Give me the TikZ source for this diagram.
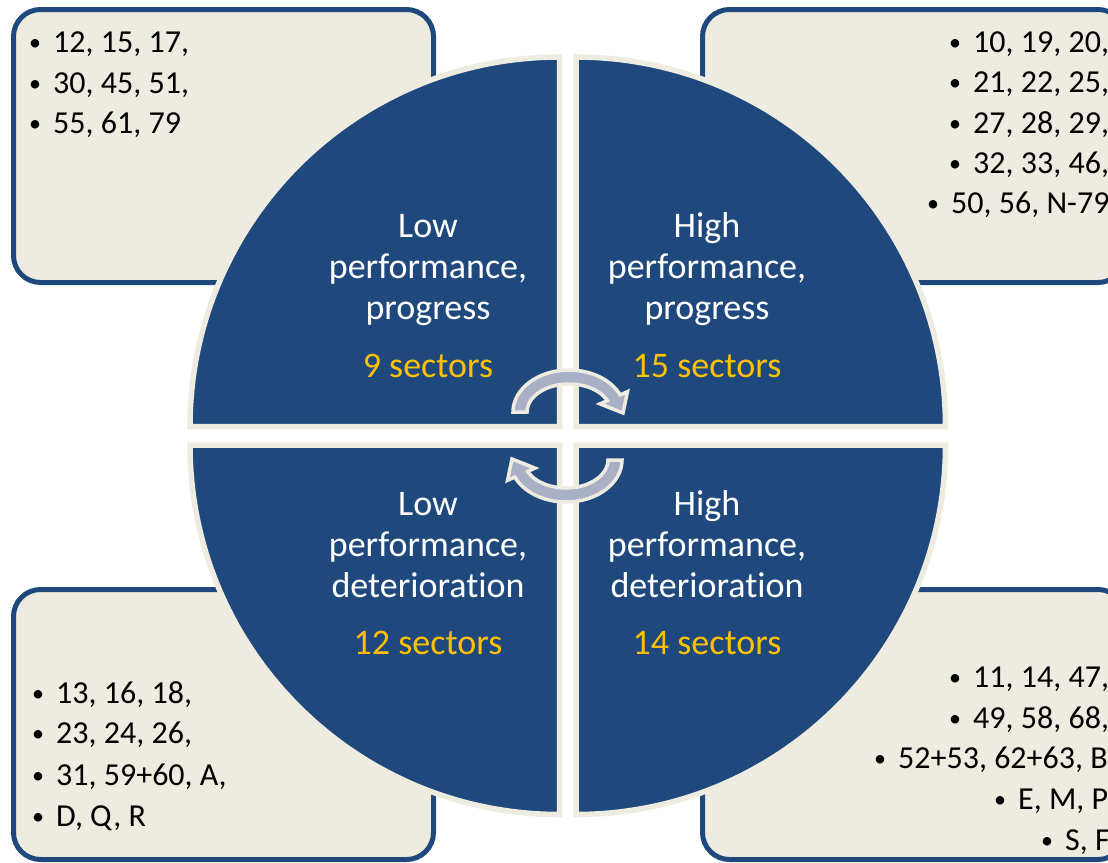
\documentclass[tikz,border=0pt]{standalone}
\usepackage{fontspec}
\setmainfont{Carlito}[Ligatures=NoCommon]
\definecolor{navy}{HTML}{1F497D}
\definecolor{cream}{HTML}{EEECE1}
\definecolor{gold}{HTML}{FFC000}
\definecolor{arrowgray}{HTML}{A9AFC4}
\newcommand\bitem[1]{\makebox[36pt][c]{\raisebox{1.5pt}{\fontsize{24}{24}\selectfont\textbullet}}#1}
\begin{document}
\begin{tikzpicture}[x=1pt,y=-1pt,
  box/.style={draw=navy, fill=cream, line width=5pt, rounded corners=27pt},
  sector/.style={fill=navy, draw=cream, line width=5.5pt},
  lab/.style={text=white, font=\fontsize{36}{40}\selectfont, anchor=base, inner sep=0pt},
  cnt/.style={text=gold, font=\fontsize{36}{40}\selectfont, anchor=base, inner sep=0pt},
  item/.style={anchor=base west, inner sep=0pt, font=\fontsize{32}{36}\selectfont, text=black},
  cyc/.style={fill=arrowgray, draw=cream, line width=3.5pt, line join=miter}]
\useasboundingbox (0,0) rectangle (1108,862);
\clip (0,0) rectangle (1108,862);
\fill[white] (0,0) rectangle (1108,862);

% background boxes
\draw[box] (13.5,9.5) rectangle (433.5,282.5);
\draw[box] (702.5,9.5) rectangle (1125,282.5);
\draw[box] (13.5,589.5) rectangle (433.5,859.5);
\draw[box] (702.5,589.5) rectangle (1125,859.5);

% quarter sectors
\draw[sector] (559.5,426.5) -- (190,426.5) arc[start angle=180, end angle=270, radius=369.5] -- cycle;
\draw[sector] (576,426.5) -- (576,57) arc[start angle=270, end angle=360, radius=369.5] -- cycle;
\draw[sector] (576,445) -- (945.5,445) arc[start angle=0, end angle=90, radius=369.5] -- cycle;
\draw[sector] (559.5,445) -- (559.5,814.5) arc[start angle=90, end angle=180, radius=369.5] -- cycle;

% sector labels
\node[lab] (tl1) at (428,237) {Low};
\node[lab] (tl2) at (428,278) {performance,};
\node[lab] (tl3) at (428,319) {progress};
\node[cnt] (tl4) at (428,377) {9 sectors};

\node[lab] (tr1) at (707,237) {High};
\node[lab] (tr2) at (707,278) {performance,};
\node[lab] (tr3) at (707,319) {progress};
\node[cnt] (tr4) at (707,377) {15 sectors};

\node[lab] (bl1) at (428,515) {Low};
\node[lab] (bl2) at (428,556) {performance,};
\node[lab] (bl3) at (428,597) {deterioration};
\node[cnt] (bl4) at (428,654) {12 sectors};

\node[lab] (br1) at (707,515) {High};
\node[lab] (br2) at (707,556) {performance,};
\node[lab] (br3) at (707,597) {deterioration};
\node[cnt] (br4) at (707,654) {14 sectors};

% cycle arrows
\begin{scope}[shift={(569,412)}]
\draw[cyc] (180:56 and 42) arc[start angle=180, end angle=336, x radius=56, y radius=42]
  -- (336:64 and 50) -- (54,1) -- (336:34 and 20) -- (336:42 and 28)
  arc[start angle=336, end angle=180, x radius=42, y radius=28] -- cycle;
\end{scope}
\begin{scope}[shift={(566,460)}, rotate=180]
\draw[cyc] (180:56 and 42) arc[start angle=180, end angle=336, x radius=56, y radius=42]
  -- (336:64 and 50) -- (54,1) -- (336:34 and 20) -- (336:42 and 28)
  arc[start angle=336, end angle=180, x radius=42, y radius=28] -- cycle;
\end{scope}

% lists
\node[item] (a1) at (17,52) {\bitem{12, 15, 17,}};
\node[item] (a2) at (17,93) {\bitem{30, 45, 51,}};
\node[item] (a3) at (17,133) {\bitem{55, 61, 79}};

\node[item] (b1) at (937,52) {\bitem{10, 19, 20,}};
\node[item] (b2) at (937,92) {\bitem{21, 22, 25,}};
\node[item] (b3) at (937,133) {\bitem{27, 28, 29,}};
\node[item] (b4) at (937,173) {\bitem{32, 33, 46,}};
\node[item] (b5) at (915,213) {\bitem{50, 56, N-79}};

\node[item] (c1) at (20,703) {\bitem{13, 16, 18,}};
\node[item] (c2) at (20,743) {\bitem{23, 24, 26,}};
\node[item] (c3) at (20,785) {\bitem{31, 59+60, A,}};
\node[item] (c4) at (20,826) {\bitem{D, Q, R}};

\node[item] (d1) at (937,687) {\bitem{11, 14, 47,}};
\node[item] (d2) at (937,728) {\bitem{49, 58, 68,}};
\node[item] (d3) at (862,768) {\bitem{52+53, 62+63, B}};
\node[item] (d4) at (982,809) {\bitem{E, M, P}};
\node[item] (d5) at (1029,850) {\bitem{S, F}};
\end{tikzpicture}
\end{document}
